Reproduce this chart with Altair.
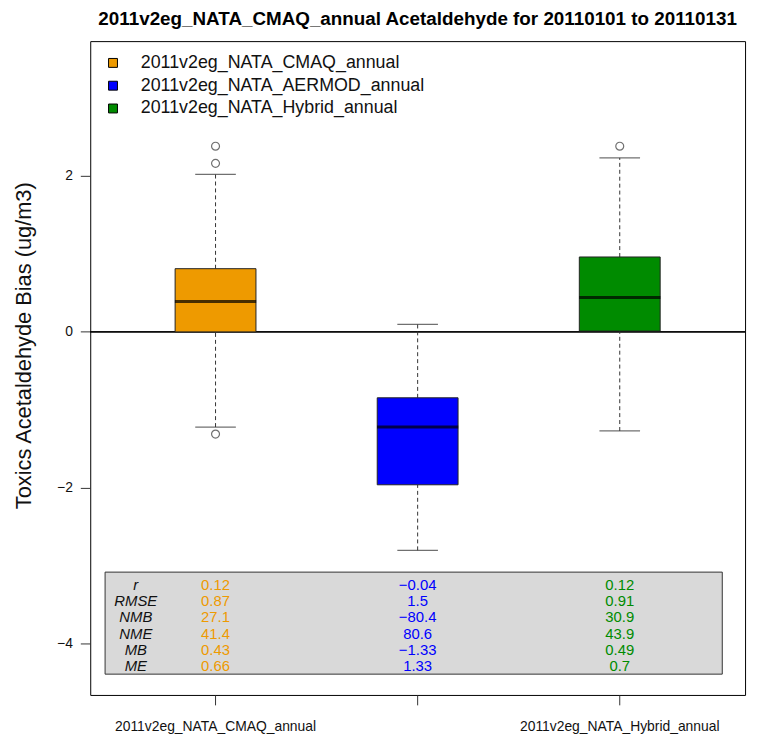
import altair as alt
import pandas as pd

FONT = "Liberation Sans"

# ---- data ----
models = ["2011v2eg_NATA_CMAQ_annual", "2011v2eg_NATA_AERMOD_annual", "2011v2eg_NATA_Hybrid_annual"]
colors = ["#EE9A00", "#0000FF", "#008B00"]

lower_whisker = [-1.22, -2.80, -1.27]
q1 = [0.0, -1.96, 0.01]
median = [0.39, -1.22, 0.44]
q3 = [0.81, -0.845, 0.96]
upper_whisker = [2.02, 0.095, 2.23]

outlier_model = [models[0], models[0], models[0], models[2]]
outlier_value = [2.38, 2.16, -1.31, 2.38]

stat_names = ["r", "RMSE", "NMB", "NME", "MB", "ME"]
stat_cmaq = [0.12, 0.87, 27.1, 41.4, 0.43, 0.66]
stat_aermod = [-0.04, 1.5, -80.4, 80.6, -1.33, 1.33]
stat_hybrid = [0.12, 0.91, 30.9, 43.9, 0.49, 0.7]

y_ticks = [-4, -2, 0, 2]
title_text = "2011v2eg_NATA_CMAQ_annual Acetaldehyde for 20110101 to 20110131"
y_title = "Toxics Acetaldehyde Bias (ug/m3)"

# ---- tables ----
box_df = pd.DataFrame({
    "model": models, "lw": lower_whisker, "q1": q1, "med": median,
    "q3": q3, "uw": upper_whisker,
})
out_df = pd.DataFrame({"model": outlier_model, "value": outlier_value})

rows = []
for m, vals in zip(models, [stat_cmaq, stat_aermod, stat_hybrid]):
    for s, v in zip(stat_names, vals):
        rows.append({"model": m, "stat": s, "label": str(v).replace("-", "\u2212")})
stat_df = pd.DataFrame(rows)
stat_lab_df = pd.DataFrame({"stat": stat_names})

# ---- shared encodings ----
x_scale = alt.Scale(type="band", domain=models, paddingInner=0.6, paddingOuter=0.42)
x_axis = alt.Axis(
    title=None, domain=False, tickSize=10, tickColor="#333", labelFontSize=14,
    labelFont=FONT, labelColor="#111", labelPadding=15, labelLimit=400,
    labelAngle=0, labelBaseline="top",
    labelExpr="datum.value == '2011v2eg_NATA_AERMOD_annual' ? '' : datum.label",
)
x_enc = alt.X("model:N", scale=x_scale, axis=x_axis)

y_scale = alt.Scale(domain=[-4.654, 3.727], nice=False, zero=False)
y_axis = alt.Axis(
    title=y_title, values=y_ticks, domain=False, grid=False, tickSize=10,
    tickColor="#333", labelFontSize=14, labelFont=FONT, labelColor="#111",
    labelPadding=8, titleFont=FONT, titleFontSize=22, titleFontWeight="normal",
    titleColor="#111", titlePadding=21, titleY=307,
)

color_enc = alt.Color(
    "model:N",
    scale=alt.Scale(domain=models, range=colors),
    legend=alt.Legend(
        title=None, orient="none", legendX=14, legendY=13, symbolType="square",
        symbolSize=81, symbolStrokeColor="#000", symbolStrokeWidth=1,
        labelFontSize=18, labelFont=FONT, labelColor="#111", labelOffset=19,
        rowPadding=5, padding=0, labelLimit=500, direction="vertical",
    ),
)

base = alt.Chart(box_df)

zero = base.mark_rule(color="#000", strokeWidth=1).encode(
    y=alt.Y(datum=0, scale=y_scale, axis=y_axis)
)
whisk_lo = base.mark_rule(color="#333", strokeDash=[4, 3], strokeWidth=1).encode(
    x=x_enc, y=alt.Y("lw:Q", scale=y_scale, axis=y_axis), y2="q1:Q"
)
whisk_hi = base.mark_rule(color="#333", strokeDash=[4, 3], strokeWidth=1).encode(
    x=x_enc, y=alt.Y("q3:Q", scale=y_scale, axis=y_axis), y2="uw:Q"
)
cap_lo = base.mark_tick(color="#333", size=41, thickness=1.2).encode(
    x=x_enc, y=alt.Y("lw:Q", scale=y_scale, axis=y_axis)
)
cap_hi = base.mark_tick(color="#333", size=41, thickness=1.2).encode(
    x=x_enc, y=alt.Y("uw:Q", scale=y_scale, axis=y_axis)
)
box = base.mark_bar(stroke="#222", strokeWidth=1).encode(
    x=x_enc, y=alt.Y("q1:Q", scale=y_scale, axis=y_axis), y2="q3:Q", color=color_enc
)
med = base.mark_tick(color="#000", size=82, thickness=3).encode(
    x=x_enc, y=alt.Y("med:Q", scale=y_scale, axis=y_axis)
)
outl = alt.Chart(out_df).mark_point(
    shape="circle", filled=False, size=64, stroke="#333", strokeWidth=1.2
).encode(x=x_enc, y=alt.Y("value:Q", scale=y_scale, axis=y_axis))

box_group = alt.layer(zero, whisk_lo, whisk_hi, cap_lo, cap_hi, box, med, outl)

# ---- statistics table ----
stat_y = alt.Y("stat:N", scale=alt.Scale(type="point", domain=stat_names, range=[549, 631], padding=0), axis=None)

panel = alt.Chart(pd.DataFrame({"a": [0]})).mark_rect(
    fill="#D9D9D9", stroke="#333", strokeWidth=1
).encode(x=alt.value(15), x2=alt.value(638), y=alt.value(536), y2=alt.value(639))

stat_labels = alt.Chart(stat_lab_df).mark_text(
    font=FONT, fontSize=15, fontStyle="italic", color="#111"
).encode(x=alt.value(46), y=stat_y, text="stat:N")

stat_vals = alt.Chart(stat_df).mark_text(font=FONT, fontSize=15).encode(
    x=x_enc, y=stat_y, text="label:N", color=color_enc
)

stats_group = alt.layer(panel, stat_labels, stat_vals)

chart = alt.layer(box_group, stats_group).resolve_scale(y="independent").properties(
    width=661,
    height=660,
    background="#FFFFFF",
    title=alt.TitleParams(
        text=title_text, font=FONT, fontSize=19, fontWeight="bold",
        anchor="middle", color="#000", offset=17, baseline="alphabetic", dy=20,
    ),
    autosize=alt.AutoSizeParams(type="none"),
    padding={"left": 83, "top": 30, "right": 6, "bottom": 38},
).configure_view(stroke="#000", strokeWidth=1)

chart.save("out.html", embed_options={"renderer": "svg", "actions": False})
